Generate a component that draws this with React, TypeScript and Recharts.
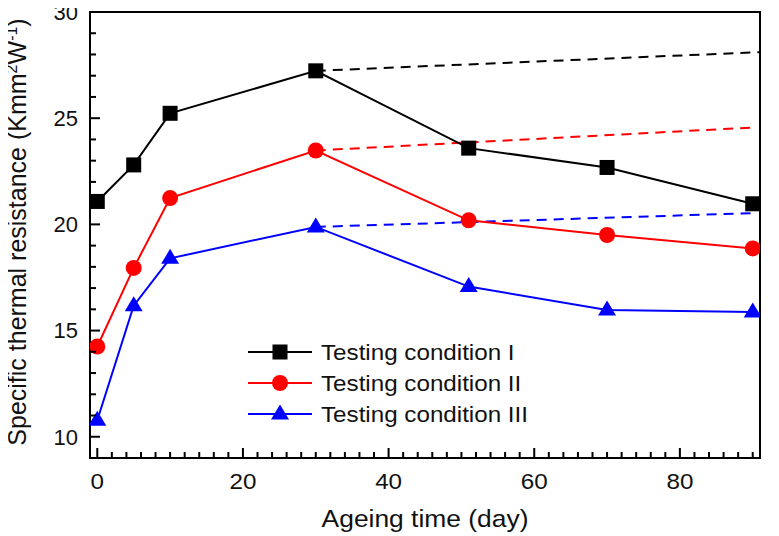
import { Legend, Line, LineChart, ReferenceArea, XAxis, YAxis } from "recharts";

const days = [0, 5, 10, 30, 51, 70, 90];
const conditionI = [21.08, 22.8, 25.23, 27.23, 23.59, 22.68, 20.97];
const conditionII = [14.25, 17.95, 21.24, 23.48, 20.19, 19.5, 18.87];
const conditionIII = [10.78, 16.17, 18.4, 19.88, 17.07, 15.97, 15.88];

// dashed extrapolation from day 30 to the right edge
const trendDaysI = [30, 91];
const trendI = [27.23, 28.11];
const trendDaysII = [30, 90.5];
const trendII = [23.48, 24.57];
const trendDaysIII = [30, 90];
const trendIII = [19.88, 20.53];

const seriesNames = ["Testing condition I", "Testing condition II", "Testing condition III"];
const seriesColors = ["#000000", "#ff0000", "#0000ff"];
const seriesShapes = ["square", "circle", "triangle"];

const xTicks = [
  0, 2, 4, 6, 8, 10, 12, 14, 16, 18, 20, 22, 24, 26, 28, 30, 32, 34, 36, 38, 40, 42, 44, 46, 48, 50, 52, 54, 56,
  58, 60, 62, 64, 66, 68, 70, 72, 74, 76, 78, 80, 82, 84, 86, 88, 90,
];
const xLabels = [0, 20, 40, 60, 80];
const yTicks = [10, 11, 12, 13, 14, 15, 16, 17, 18, 19, 20, 21, 22, 23, 24, 25, 26, 27, 28, 29, 30];
const yLabels = [10, 15, 20, 25, 30];

const FONT = "'Liberation Sans', Arial, sans-serif";
const STRETCH = 1.1; // the source figure is a little wider than Arial

const toPoints = (xs: number[], ys: number[]) => xs.map((x, i) => ({ x, y: ys[i] }));

function Marker({ shape, cx, cy, color }: { shape: string; cx: number; cy: number; color: string }) {
  if (shape === "square") {
    return <rect x={cx - 7.5} y={cy - 7.5} width={15} height={15} fill={color} />;
  }
  if (shape === "circle") {
    return <circle cx={cx} cy={cy} r={8} fill={color} />;
  }
  return (
    <polygon
      points={`${cx},${cy - 9.5} ${cx - 9},${cy + 5.5} ${cx + 9},${cy + 5.5}`}
      fill={color}
    />
  );
}

const makeDot = (idx: number) => (props: any) => {
  const { cx, cy, index } = props;
  if (cx == null || cy == null) return <g key={index} />;
  return (
    <g key={index}>
      <Marker shape={seriesShapes[idx]} cx={cx} cy={cy} color={seriesColors[idx]} />
    </g>
  );
};

function WideText({ x, y, size, anchor = "start", dy, children }: any) {
  return (
    <text
      transform={`translate(${x} ${y}) scale(${STRETCH} 1)`}
      dy={dy}
      textAnchor={anchor}
      fontSize={size}
      fontFamily={FONT}
      fill="#111"
    >
      {children}
    </text>
  );
}

function XTick(props: any) {
  const { x, y, payload } = props;
  const major = xLabels.includes(payload.value);
  return (
    <g>
      <line x1={x} x2={x} y1={y} y2={y - (major ? 10 : 6)} stroke="#000" strokeWidth={2} />
      {major && (
        <WideText x={x} y={y + 31} size={22} anchor="middle">
          {payload.value}
        </WideText>
      )}
    </g>
  );
}

function YTick(props: any) {
  const { x, y, payload } = props;
  const major = yLabels.includes(payload.value);
  return (
    <g>
      <line x1={x} x2={x + (major ? 10 : 6)} y1={y} y2={y} stroke="#000" strokeWidth={2} />
      {major && (
        <text x={x - 12} y={y} dy="0.36em" textAnchor="end" fontSize={22} fontFamily={FONT} fill="#111">
          {payload.value}
        </text>
      )}
    </g>
  );
}

function XTitle(props: any) {
  const { viewBox } = props;
  return (
    <WideText x={viewBox.x + viewBox.width / 2} y={viewBox.y + 69} size={24} anchor="middle">
      Ageing time (day)
    </WideText>
  );
}

function YTitle(props: any) {
  const { viewBox } = props;
  const cy = viewBox.y + viewBox.height / 2 - 3;
  const cx = 18;
  return (
    <text
      x={cx}
      y={cy}
      transform={`rotate(-90, ${cx}, ${cy})`}
      textAnchor="middle"
      fontSize={25}
      fontFamily={FONT}
      fill="#111"
    >
      Specific thermal resistance (Kmm
      <tspan dy={-9} fontSize={16}>2</tspan>
      <tspan dy={9}>W</tspan>
      <tspan dy={-9} fontSize={16}>-1</tspan>
      <tspan dy={9}>)</tspan>
    </text>
  );
}

function LegendBox(props: any) {
  const items = (props.payload || []).filter((p: any) => seriesNames.includes(p.value));
  return (
    <svg width={330} height={100}>
      {items.map((item: any) => {
        const i = seriesNames.indexOf(item.value);
        const cy = 17 + i * 31;
        return (
          <g key={item.value}>
            <line x1={8} x2={72} y1={cy} y2={cy} stroke={seriesColors[i]} strokeWidth={2} />
            <Marker shape={seriesShapes[i]} cx={40} cy={cy} color={seriesColors[i]} />
            <WideText x={81} y={cy} dy="0.36em" size={22}>
              {item.value}
            </WideText>
          </g>
        );
      })}
    </svg>
  );
}

export default function App() {
  const main = [conditionI, conditionII, conditionIII].map((ys) => toPoints(days, ys));
  const trends = [
    toPoints(trendDaysI, trendI),
    toPoints(trendDaysII, trendII),
    toPoints(trendDaysIII, trendIII),
  ];

  return (
    <div style={{ width: 771, height: 528 }}>
      <LineChart width={771} height={528} margin={{ top: 4, right: 19, bottom: 0, left: 0 }}>
        <XAxis
          dataKey="x"
          type="number"
          domain={[-1, 91]}
          ticks={xTicks}
          interval={0}
          allowDataOverflow
          height={78}
          tickSize={0}
          tickMargin={0}
          tickLine={false}
          tick={<XTick />}
          axisLine={{ stroke: "#000", strokeWidth: 2 }}
          label={{ content: <XTitle /> }}
        />
        <YAxis
          type="number"
          domain={[9, 30]}
          ticks={yTicks}
          interval={0}
          allowDataOverflow
          width={82}
          tickSize={0}
          tickMargin={0}
          tickLine={false}
          tick={<YTick />}
          axisLine={{ stroke: "#000", strokeWidth: 2 }}
          label={{ content: <YTitle /> }}
        />
        <ReferenceArea x1={-1} x2={91} y1={9} y2={30} fill="none" stroke="#000" strokeWidth={2} />
        {trends.map((pts, i) => (
          <Line
            key={`trend-${i}`}
            data={pts}
            dataKey="y"
            name={`trend ${i}`}
            type="linear"
            stroke={seriesColors[i]}
            strokeWidth={2}
            strokeDasharray="10 7"
            dot={false}
            activeDot={false}
            legendType="none"
            isAnimationActive={false}
          />
        ))}
        {main.map((pts, i) => (
          <Line
            key={seriesNames[i]}
            data={pts}
            dataKey="y"
            name={seriesNames[i]}
            type="linear"
            stroke={seriesColors[i]}
            strokeWidth={2}
            dot={makeDot(i)}
            activeDot={false}
            isAnimationActive={false}
          />
        ))}
        <Legend
          layout="horizontal"
          verticalAlign="middle"
          align="center"
          content={<LegendBox />}
          wrapperStyle={{ position: "absolute", left: 232, top: 327, width: 330, height: 100 }}
        />
      </LineChart>
    </div>
  );
}
